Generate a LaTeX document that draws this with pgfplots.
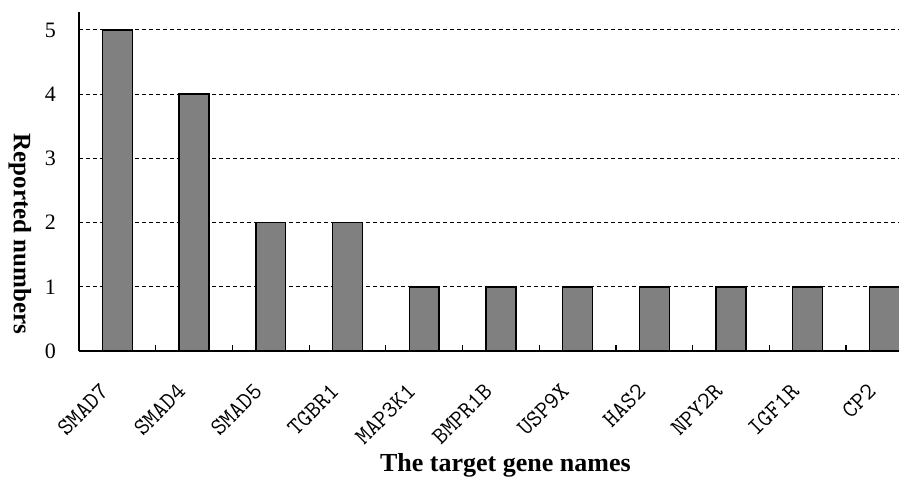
\documentclass[border=0pt]{standalone}
\usepackage{fontspec}
\setmainfont{Liberation Serif}
\usepackage{pgfplots}
\pgfplotsset{compat=1.18}
\begin{document}
\begin{tikzpicture}[x=1pt,y=1pt]
\begin{axis}[
  at={(0,0)}, anchor=south west,
  scale only axis,
  width=410pt, height=169.5pt,
  xmin=-0.5, xmax=10.19,
  ymin=0, ymax=5.28,
  clip=true,
  axis x line*=bottom, axis y line*=left,
  axis line style={line width=0.8pt, -},
  xtick={0,1,2,3,4,5,6,7,8,9,10},
  xticklabels={SMAD7,SMAD4,SMAD5,TGBR1,MAP3K1,BMPR1B,USP9X,HAS2,NPY2R,IGF1R,CP2},
  extra x ticks={0.5,1.5,2.5,3.5,4.5,5.5,6.5,7.5,8.5,9.5},
  extra x tick labels={},
  extra x tick style={major tick length=3pt, tick align=inside, tick style={line width=0.6pt, black}},
  major tick length=0pt,
  ytick={0,1,2,3,4,5},
  ymajorgrids,
  grid style={black, line width=0.5pt, dash pattern=on 2pt off 1.5pt},
  /pgf/number format/assume math mode=true,
  yticklabel style={font=\fontsize{11}{12}\selectfont, xshift=-8pt},
  xticklabel style={xshift=-9pt, yshift=-15.5pt, rotate=45, anchor=north east, font=\ttfamily\fontsize{12}{13}\selectfont, inner sep=0pt},
  xlabel={The target gene names},
  ylabel={Reported numbers},
  xlabel style={font=\bfseries\fontsize{13}{15}\selectfont, at={(axis description cs:0.52,-0.336)}, anchor=center},
  ylabel style={font=\bfseries\fontsize{12.5}{15}\selectfont, rotate=180, at={(axis description cs:-0.072,0.345)}, anchor=center},
]
\addplot[ybar, bar width=0.39, fill={rgb,255:red,128;green,128;blue,128}, draw=black, line width=0.7pt]
  coordinates {(0,5) (1,4) (2,2) (3,2) (4,1) (5,1) (6,1) (7,1) (8,1) (9,1) (10,1)};
\end{axis}
\pgfresetboundingbox
\path[use as bounding box] (-39.5pt,-63.5pt) rectangle (410pt,175.5pt);
\end{tikzpicture}
\end{document}
